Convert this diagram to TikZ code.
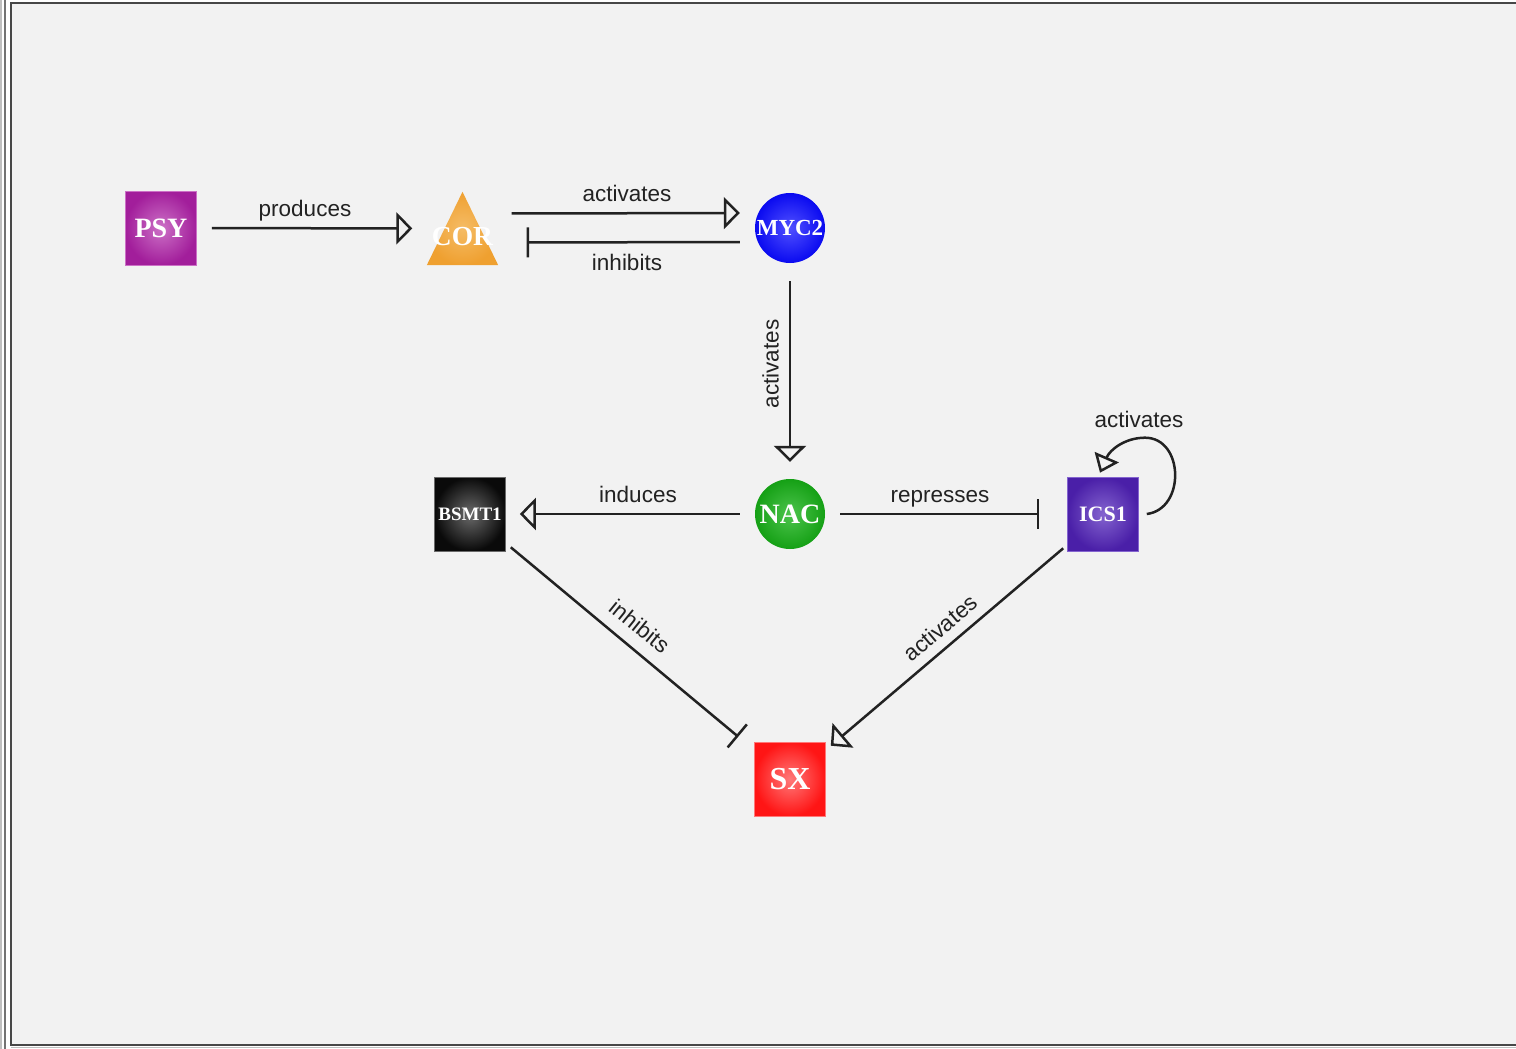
\documentclass[tikz,border=0pt]{standalone}
\usepackage{fontspec}
\setmainfont{Liberation Serif}
\newfontfamily\lblfont{Liberation Sans}
\usetikzlibrary{arrows.meta,calc}
\definecolor{bg}{HTML}{F2F2F2}
\definecolor{ink}{HTML}{222222}
\definecolor{psyout}{HTML}{A21E9B}\definecolor{psyin}{HTML}{CC70C6}
\definecolor{corout}{HTML}{EFA030}\definecolor{corin}{HTML}{F5BC66}
\definecolor{mycout}{HTML}{0A0AF0}\definecolor{mycin}{HTML}{5050FF}
\definecolor{nacout}{HTML}{15A015}\definecolor{nacin}{HTML}{4CC44C}
\definecolor{bsmout}{HTML}{0A0A0A}\definecolor{bsmin}{HTML}{6A6A6A}
\definecolor{icsout}{HTML}{4A1FA8}\definecolor{icsin}{HTML}{8464CF}
\definecolor{sxout}{HTML}{FF1515}\definecolor{sxin}{HTML}{FF7878}
\begin{document}
\begin{tikzpicture}[x=1pt,y=-1pt,
  sq/.style={rectangle, minimum width=71pt, minimum height=74pt, inner sep=0pt, text=white},
  circ/.style={circle, minimum size=70pt, inner sep=0pt, text=white},
  nfont/.style={font=\bfseries\fontsize{#1}{#1}\selectfont},
  lbl/.style={font=\lblfont\fontsize{22.5}{22.5}\selectfont, text=ink, inner sep=0pt, text height=16pt, text depth=5pt},
  edge/.style={draw=ink, line width=2.5pt},
  act/.style={edge, -{Triangle[open, length=16pt, width=32pt, line width=2.5pt]}},
  inh/.style={edge, -{Bar[width=30pt, line width=2.5pt]}},
]
\useasboundingbox (0,0) rectangle (1516,1049);
% frame
\fill[white] (0,0) rectangle (1516,1049);
\fill[bg] (11,4) rectangle (1516,1045);
\draw[color=black!25, line width=1.5pt] (0.8,0) -- (0.8,1049);
\draw[color=black!55, line width=1.5pt] (5,0) -- (5,1049);
\draw[color=black!25, line width=1.2pt] (11,1047.6) -- (1516,1047.6);
\draw[color=black!72, line width=2pt] (1516,3.5) -- (11,3.5) -- (11,1045) -- (1516,1045);

% nodes
\node[sq, nfont=28, draw=psyin, line width=0.6pt, inner color=psyin, outer color=psyout] (psy) at (161,228) {PSY};
\node[minimum width=71pt, minimum height=73pt, inner sep=0pt] (cor) at (462.5,228.5) {};
\shade[inner color=corin, outer color=corout] (cor.south west) -- (cor.south east) -- (cor.north) -- cycle;
\node[nfont=27.5, text=white, inner sep=0pt] (corlbl) at ([yshift=-8pt]cor.center) {COR};
\node[circ, nfont=23, inner color=mycin, outer color=mycout] (myc) at (790,228) {MYC2};
\node[circ, nfont=28, inner color=nacin, outer color=nacout] (nac) at (790,514) {NAC};
\node[sq, nfont=19, draw=bsmin, line width=0.6pt, inner color=bsmin, outer color=bsmout] (bsmt) at (470,514) {BSMT1};
\node[sq, nfont=22, draw=icsin, line width=0.6pt, inner color=icsin, outer color=icsout] (ics) at (1103,514) {ICS1};
\node[sq, nfont=32, draw=sxin, line width=0.6pt, inner color=sxin, outer color=sxout] (sx) at (790,779) {SX};

% edges
\draw[act, shorten <=15pt, shorten >=14.5pt] (psy) -- (cor);
\draw[act, shorten <=13.5pt, shorten >=15pt] ([yshift=15pt]cor.east) -- ([yshift=15pt]myc.west);
\draw[inh, shorten <=15pt, shorten >=28.5pt] ([yshift=-14pt]myc.west) -- ([yshift=-14pt]cor.east);
\draw[act, shorten <=18pt, shorten >=17pt] (myc) -- (nac);
\draw[act, shorten <=15pt, shorten >=14pt] (nac) -- (bsmt);
\draw[inh, shorten <=15pt, shorten >=28pt] (nac) -- (ics);
\draw[inh] ([xshift=5pt,yshift=4pt]bsmt.south east) -- ([xshift=-16pt,yshift=5pt]sx.north west);
\draw[act] ([xshift=-4pt,yshift=3pt]ics.south west) -- ([xshift=5pt,yshift=-4pt]sx.north east);
\coordinate (looptop) at ($(ics.north)+(42,-39)$);
\draw[edge, -{Triangle[open, length=17pt, width=26pt, line width=2.5pt]}]
  ([xshift=8pt]ics.east) .. controls +(39,-5) and +(39,0) .. (looptop)
  .. controls +(-20,0) and ([xshift=7pt,yshift=27pt]ics.north) .. ([xshift=-3pt,yshift=4pt]ics.north);

% labels
\node[lbl] (l1) at (305,211) {produces};
\node[lbl] (l2) at (627,196) {activates};
\node[lbl] (l3) at (627,265) {inhibits};
\node[lbl, rotate=90] (l4) at (773,364) {activates};
\node[lbl] (l5) at (638,497) {induces};
\node[lbl] (l6) at (940,497) {represses};
\node[lbl, rotate=-39] (l7) at (638,628) {inhibits};
\node[lbl, rotate=40] (l8) at (942,630) {activates};
\node[lbl] (l9) at (1139,422) {activates};
\end{tikzpicture}
\end{document}
